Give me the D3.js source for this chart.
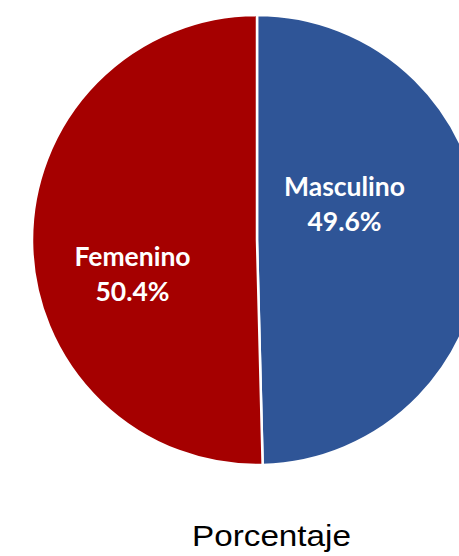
<!DOCTYPE html>
<html>
<head>
<meta charset="utf-8">
<script src="https://cdn.jsdelivr.net/npm/d3@7"></script>
<style>
  body { margin: 0; background: #fff; }
  svg { display: block; }
</style>
</head>
<body>
<svg id="chart" width="459" height="556"></svg>
<script>
var categories = ["Masculino", "Femenino"];
var values = [49.6, 50.4];
var colors = ["#2F5597", "#A50000"];
var axisTitle = "Porcentaje";

var svg = d3.select("#chart");
var cx = 257, cy = 240, r = 225;

var pie = d3.pie().sort(null).value(function(d) { return d; });
var arc = d3.arc().innerRadius(0).outerRadius(r);

var g = svg.append("g").attr("transform", "translate(" + cx + "," + cy + ")");

var arcs = pie(values);

g.selectAll("path")
  .data(arcs)
  .enter()
  .append("path")
  .attr("d", arc)
  .style("fill", function(d, i) { return colors[i]; })
  .style("stroke", "#fff")
  .style("stroke-width", 2.5);

// Excel places the labels a bit off the centroid, nudge them
var labelArc = d3.arc().innerRadius(r * 0.5).outerRadius(r * 0.5);
var nudge = [[-25, -43], [-12, 25]];

var labels = g.selectAll(".lbl")
  .data(arcs)
  .enter()
  .append("text")
  .attr("class", "lbl")
  .attr("transform", function(d, i) {
    var c = labelArc.centroid(d);
    return "translate(" + (c[0] + nudge[i][0]) + "," + (c[1] + nudge[i][1]) + ")";
  })
  .attr("text-anchor", "middle")
  .style("fill", "#fff")
  .style("font-family", "Lato, 'Open Sans', sans-serif")
  .style("font-weight", "bold")
  .style("font-size", "26.5px");

labels.append("tspan")
  .attr("x", 0)
  .attr("y", 0)
  .text(function(d, i) { return categories[i]; });
labels.append("tspan")
  .attr("x", 0)
  .attr("y", 35)
  .text(function(d) { return d3.format(".1f")(d.data) + "%"; });

svg.append("text")
  .attr("x", 192)
  .attr("y", 546)
  .attr("textLength", 159)
  .attr("lengthAdjust", "spacingAndGlyphs")
  .style("font-family", "'Liberation Sans', Arial, sans-serif")
  .style("font-size", "29px")
  .style("fill", "#000")
  .text(axisTitle);
</script>
</body>
</html>
